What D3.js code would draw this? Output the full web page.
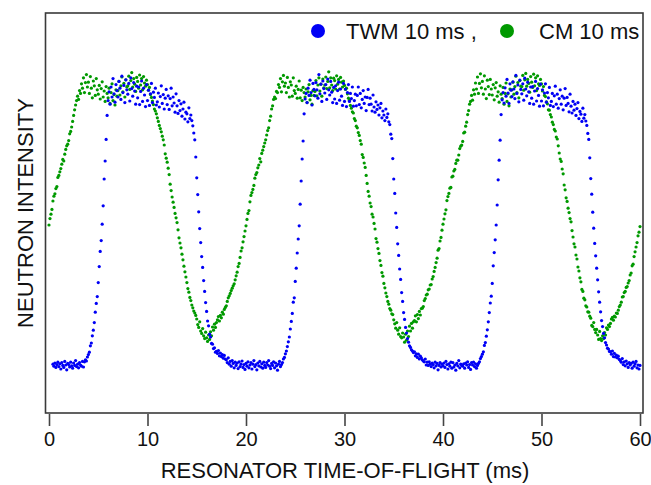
<!DOCTYPE html>
<html>
<head>
<meta charset="utf-8">
<script src="https://cdn.jsdelivr.net/npm/d3@7"></script>
<style>
  body { margin: 0; background: #fff; }
  text { font-family: "Liberation Sans", Arial, sans-serif; fill: #111; }
</style>
</head>
<body>
<svg id="tof_chart" width="651" height="485"></svg>
<script>
// time-of-flight bins (ms)
const tofMs = [
  0.0,0.1,0.2,0.3,0.4,0.5,0.6,0.7,0.8,0.9, 1.0,1.1,1.2,1.3,1.4,1.5,1.6,1.7,1.8,1.9,
  2.0,2.1,2.2,2.3,2.4,2.5,2.6,2.7,2.8,2.9, 3.0,3.1,3.2,3.3,3.4,3.5,3.6,3.7,3.8,3.9,
  4.0,4.1,4.2,4.3,4.4,4.5,4.6,4.7,4.8,4.9, 5.0,5.1,5.2,5.3,5.4,5.5,5.6,5.7,5.8,5.9,
  6.0,6.1,6.2,6.3,6.4,6.5,6.6,6.7,6.8,6.9, 7.0,7.1,7.2,7.3,7.4,7.5,7.6,7.7,7.8,7.9,
  8.0,8.1,8.2,8.3,8.4,8.5,8.6,8.7,8.8,8.9, 9.0,9.1,9.2,9.3,9.4,9.5,9.6,9.7,9.8,9.9,
  10.0,10.1,10.2,10.3,10.4,10.5,10.6,10.7,10.8,10.9, 11.0,11.1,11.2,11.3,11.4,11.5,11.6,11.7,11.8,11.9,
  12.0,12.1,12.2,12.3,12.4,12.5,12.6,12.7,12.8,12.9, 13.0,13.1,13.2,13.3,13.4,13.5,13.6,13.7,13.8,13.9,
  14.0,14.1,14.2,14.3,14.4,14.5,14.6,14.7,14.8,14.9, 15.0,15.1,15.2,15.3,15.4,15.5,15.6,15.7,15.8,15.9,
  16.0,16.1,16.2,16.3,16.4,16.5,16.6,16.7,16.8,16.9, 17.0,17.1,17.2,17.3,17.4,17.5,17.6,17.7,17.8,17.9,
  18.0,18.1,18.2,18.3,18.4,18.5,18.6,18.7,18.8,18.9, 19.0,19.1,19.2,19.3,19.4,19.5,19.6,19.7,19.8,19.9,
  20.0,20.1,20.2,20.3,20.4,20.5,20.6,20.7,20.8,20.9, 21.0,21.1,21.2,21.3,21.4,21.5,21.6,21.7,21.8,21.9,
  22.0,22.1,22.2,22.3,22.4,22.5,22.6,22.7,22.8,22.9, 23.0,23.1,23.2,23.3,23.4,23.5,23.6,23.7,23.8,23.9,
  24.0,24.1,24.2,24.3,24.4,24.5,24.6,24.7,24.8,24.9, 25.0,25.1,25.2,25.3,25.4,25.5,25.6,25.7,25.8,25.9,
  26.0,26.1,26.2,26.3,26.4,26.5,26.6,26.7,26.8,26.9, 27.0,27.1,27.2,27.3,27.4,27.5,27.6,27.7,27.8,27.9,
  28.0,28.1,28.2,28.3,28.4,28.5,28.6,28.7,28.8,28.9, 29.0,29.1,29.2,29.3,29.4,29.5,29.6,29.7,29.8,29.9,
  30.0,30.1,30.2,30.3,30.4,30.5,30.6,30.7,30.8,30.9, 31.0,31.1,31.2,31.3,31.4,31.5,31.6,31.7,31.8,31.9,
  32.0,32.1,32.2,32.3,32.4,32.5,32.6,32.7,32.8,32.9, 33.0,33.1,33.2,33.3,33.4,33.5,33.6,33.7,33.8,33.9,
  34.0,34.1,34.2,34.3,34.4,34.5,34.6,34.7,34.8,34.9, 35.0,35.1,35.2,35.3,35.4,35.5,35.6,35.7,35.8,35.9,
  36.0,36.1,36.2,36.3,36.4,36.5,36.6,36.7,36.8,36.9, 37.0,37.1,37.2,37.3,37.4,37.5,37.6,37.7,37.8,37.9,
  38.0,38.1,38.2,38.3,38.4,38.5,38.6,38.7,38.8,38.9, 39.0,39.1,39.2,39.3,39.4,39.5,39.6,39.7,39.8,39.9,
  40.0,40.1,40.2,40.3,40.4,40.5,40.6,40.7,40.8,40.9, 41.0,41.1,41.2,41.3,41.4,41.5,41.6,41.7,41.8,41.9,
  42.0,42.1,42.2,42.3,42.4,42.5,42.6,42.7,42.8,42.9, 43.0,43.1,43.2,43.3,43.4,43.5,43.6,43.7,43.8,43.9,
  44.0,44.1,44.2,44.3,44.4,44.5,44.6,44.7,44.8,44.9, 45.0,45.1,45.2,45.3,45.4,45.5,45.6,45.7,45.8,45.9,
  46.0,46.1,46.2,46.3,46.4,46.5,46.6,46.7,46.8,46.9, 47.0,47.1,47.2,47.3,47.4,47.5,47.6,47.7,47.8,47.9,
  48.0,48.1,48.2,48.3,48.4,48.5,48.6,48.7,48.8,48.9, 49.0,49.1,49.2,49.3,49.4,49.5,49.6,49.7,49.8,49.9,
  50.0,50.1,50.2,50.3,50.4,50.5,50.6,50.7,50.8,50.9, 51.0,51.1,51.2,51.3,51.4,51.5,51.6,51.7,51.8,51.9,
  52.0,52.1,52.2,52.3,52.4,52.5,52.6,52.7,52.8,52.9, 53.0,53.1,53.2,53.3,53.4,53.5,53.6,53.7,53.8,53.9,
  54.0,54.1,54.2,54.3,54.4,54.5,54.6,54.7,54.8,54.9, 55.0,55.1,55.2,55.3,55.4,55.5,55.6,55.7,55.8,55.9,
  56.0,56.1,56.2,56.3,56.4,56.5,56.6,56.7,56.8,56.9, 57.0,57.1,57.2,57.3,57.4,57.5,57.6,57.7,57.8,57.9,
  58.0,58.1,58.2,58.3,58.4,58.5,58.6,58.7,58.8,58.9, 59.0,59.1,59.2,59.3,59.4,59.5,59.6,59.7,59.8,59.9,
  60.0
];

// TWM 10 ms counts (arb. units), one row per ms
const twmCounts = [
  null,null,null,null,122,117,125,114,121,127,
  116,123,110,126,119,114,129,120,108,124,
  121,115,127,118,112,125,119,131,116,122,
  113,126,120,117,129,115,128,133,130,140,
  146,152,168,175,193,207,226,252,274,291,
  326,366,404,431,472,518,585,630,684,744,
  781,803,772,815,790,836,798,777,821,806,
  790,829,812,784,842,801,819,776,833,808,
  797,824,780,838,811,792,826,805,772,817,
  788,815,771,804,830,779,812,795,766,821,
  781,807,769,798,824,776,802,789,812,770,
  778,800,765,791,818,774,796,760,787,809,
  771,793,759,786,812,768,790,775,752,798,
  768,749,781,756,773,742,760,777,735,752,
  748,728,763,736,745,731,718,700,683,640,
  588,546,503,461,426,391,364,331,304,276,
  254,230,218,197,190,174,172,161,163,152,
  154,149,156,143,150,141,146,137,144,135,
  133,126,138,122,129,117,131,124,113,127,
  119,125,111,128,116,122,130,114,121,109,
  124,117,128,113,120,126,110,122,131,116,
  121,108,125,118,129,115,123,112,127,119,
  114,126,120,131,117,111,124,119,128,113,
  125,118,107,122,129,116,121,126,135,139,
  148,155,166,178,190,210,229,249,277,288,
  329,362,400,435,468,522,580,635,680,748,
  785,799,776,812,794,832,801,770,824,809,
  793,826,808,787,846,798,822,779,830,811,
  800,821,784,835,808,795,829,802,776,814,
  785,818,774,806,827,782,810,792,769,824,
  779,810,766,801,821,779,799,786,815,767,
  781,797,768,794,815,771,799,763,784,806,
  774,790,756,789,809,771,787,772,755,795,
  765,752,778,759,770,745,763,774,738,755,
  745,731,760,739,748,728,721,697,686,636,
  585,549,500,464,423,394,360,334,301,279,
  251,234,214,200,186,177,168,164,158,155,
  151,153,143,148,139,147,135,142,138,133,
  130,128,135,120,127,119,128,122,116,125,
  121,113,127,118,124,108,119,126,115,122,
  118,125,114,129,121,110,123,117,127,112,
  126,115,120,107,124,118,131,113,122,119,
  117,123,112,125,120,128,114,121,109,126,
  120,127,116,123,112,119,124,128,136,141,
  147,153,169,176,192,208,228,251,275,292,
  324,368,401,433,470,520,583,632,682,746,
  783,801,775,813,792,834,800,774,823,807,
  791,828,810,786,844,799,820,778,832,809,
  798,823,782,837,810,793,827,803,774,815,
  787,816,772,805,829,780,811,794,767,822,
  780,808,768,800,823,777,801,788,814,769,
  779,799,766,793,817,772,797,762,786,808,
  772,792,758,787,811,769,789,774,753,797,
  767,750,779,757,772,744,761,776,736,754,
  747,729,762,737,746,730,719,699,684,638,
  586,547,502,462,424,393,362,333,303,277,
  253,231,216,199,188,176,170,162,160,154,
  153,147,155,141,149,140,145,138,142,134,
  131,127,136,121,128,118,130,123,114,126,
  120,124,112,127,117,123,129,113,120,110,
  119
];

// CM 10 ms counts (arb. units), one row per ms
const cmCounts = [
  470,486,497,509,530,542,548,561,566,589,
  594,603,611,622,634,630,647,659,668,672,
  681,698,704,715,729,744,758,770,781,792,
  784,806,799,823,812,838,801,826,846,815,
  827,799,841,812,788,830,818,794,836,808,
  797,819,785,811,828,790,805,779,816,799,
  788,812,774,801,823,781,796,770,808,792,
  806,829,795,818,840,803,824,790,833,815,
  818,842,809,831,851,815,836,822,804,839,
  829,812,845,820,836,808,841,825,817,832,
  821,807,814,796,789,780,771,760,755,748,
  738,729,719,711,703,692,683,670,648,637,
  627,612,596,572,556,540,527,514,499,488,
  476,458,438,425,413,397,383,367,353,340,
  326,311,302,289,281,270,263,255,250,244,
  235,221,214,228,205,199,211,193,186,202,
  188,179,195,184,203,193,215,207,222,214,
  226,233,241,230,244,238,252,247,259,264,
  268,279,288,293,299,306,312,318,323,333,
  343,352,366,374,389,405,413,428,441,455,
  468,484,499,506,528,544,551,559,569,587,
  596,601,613,620,636,628,649,657,666,675,
  683,695,706,713,731,742,760,768,784,790,
  786,804,801,821,814,836,803,828,844,817,
  825,801,839,814,790,828,820,792,838,806,
  799,817,787,809,830,788,807,781,814,801,
  790,810,776,803,821,783,794,772,806,794,
  804,831,793,820,838,805,822,792,835,813,
  820,840,811,829,853,813,838,820,806,837,
  831,810,843,822,834,810,839,827,815,830,
  819,809,812,798,787,782,769,762,753,750,
  736,731,717,713,701,694,681,672,646,639,
  625,614,594,574,554,542,525,516,497,490,
  474,460,436,427,411,399,381,369,351,342,
  324,313,300,291,279,272,261,257,248,246,
  233,223,212,226,207,197,213,191,188,200,
  190,177,197,182,205,191,217,205,224,212,
  228,231,243,228,246,236,254,245,261,262,
  266,281,286,295,297,308,310,320,321,335,
  341,354,364,376,387,407,411,430,439,457,
  472,485,498,508,531,541,549,562,564,590,
  592,605,609,624,632,632,645,661,667,670,
  679,700,702,717,727,746,756,772,779,794,
  782,808,797,825,810,840,799,824,848,813,
  829,797,843,810,786,832,816,796,834,810,
  795,821,783,813,826,792,803,777,818,797,
  786,814,772,799,825,779,798,768,810,790,
  808,827,797,816,842,801,826,788,831,817,
  816,844,807,833,849,817,834,824,802,841,
  827,814,847,818,838,806,843,823,819,834,
  823,805,816,794,791,778,773,758,757,746,
  740,727,721,709,705,690,685,668,650,635,
  629,610,598,570,558,538,529,512,501,486,
  478,456,440,423,415,395,385,365,355,338,
  328,309,304,287,283,268,265,253,252,242,
  237,219,216,226,209,201,209,195,184,204,
  186,181,193,186,201,195,213,209,220,216,
  224,235,239,232,242,240,250,249,257,266,
  270,277,290,291,301,304,314,316,325,331,
  345,350,368,372,391,403,415,426,443,452,
  466
];

const xTicks = [0, 10, 20, 30, 40, 50, 60];
const seriesNames = ["TWM 10 ms ,", "CM 10 ms"];
const seriesColors = ["#0000f5", "#009900"];

const svg = d3.select("#tof_chart");

const x = d3.scaleLinear()
    .domain([0, 60])
    .range([49, 640]);

const y = d3.scaleLinear()
    .domain([0, 1000])
    .range([413, 13]);

function toPoints(counts) {
    return tofMs.map((t, i) => ({t: t, v: counts[i]}))
        .filter(d => d.v != null);
}

const twm = toPoints(twmCounts);
const cm = toPoints(cmCounts);

// frame
svg.append("rect")
    .attr("x", 45.5)
    .attr("y", 13)
    .attr("width", 597.5)
    .attr("height", 400)
    .attr("fill", "none")
    .attr("stroke", "#3a3a3a")
    .attr("stroke-width", 1.6);

// CM points under TWM points
svg.append("g")
    .selectAll("circle")
    .data(cm)
    .join("circle")
        .attr("cx", d => x(d.t))
        .attr("cy", d => y(d.v))
        .attr("r", 1.6)
        .attr("fill", seriesColors[1]);

svg.append("g")
    .selectAll("circle")
    .data(twm)
    .join("circle")
        .attr("cx", d => x(d.t))
        .attr("cy", d => y(d.v))
        .attr("r", 1.6)
        .attr("fill", seriesColors[0]);

// x axis
const xAxis = svg.append("g")
    .attr("transform", "translate(0,414)")
    .call(d3.axisBottom(x).tickValues(xTicks).tickSize(12).tickPadding(6));

xAxis.select(".domain").remove();
xAxis.selectAll(".tick line")
    .attr("stroke", "#444")
    .attr("stroke-width", 1.6);
xAxis.selectAll(".tick text")
    .attr("font-size", 20)
    .attr("font-family", "Liberation Sans, Arial, sans-serif")
    .attr("fill", "#111");

svg.append("text")
    .attr("x", 345)
    .attr("y", 478)
    .attr("text-anchor", "middle")
    .style("font-size", "22px")
    .text("RESONATOR TIME-OF-FLIGHT (ms)");

svg.append("text")
    .attr("transform", "translate(33,213) rotate(-90)")
    .attr("text-anchor", "middle")
    .style("font-size", "22px")
    .text("NEUTRON INTENSITY");

// legend
const legendX = [[318, 346], [507, 539]];
seriesNames.forEach((name, i) => {
    svg.append("circle")
        .attr("cx", legendX[i][0])
        .attr("cy", 31)
        .attr("r", 7)
        .attr("fill", seriesColors[i]);
    svg.append("text")
        .attr("x", legendX[i][1])
        .attr("y", 39)
        .style("font-size", "22px")
        .text(name);
});
</script>
</body>
</html>
